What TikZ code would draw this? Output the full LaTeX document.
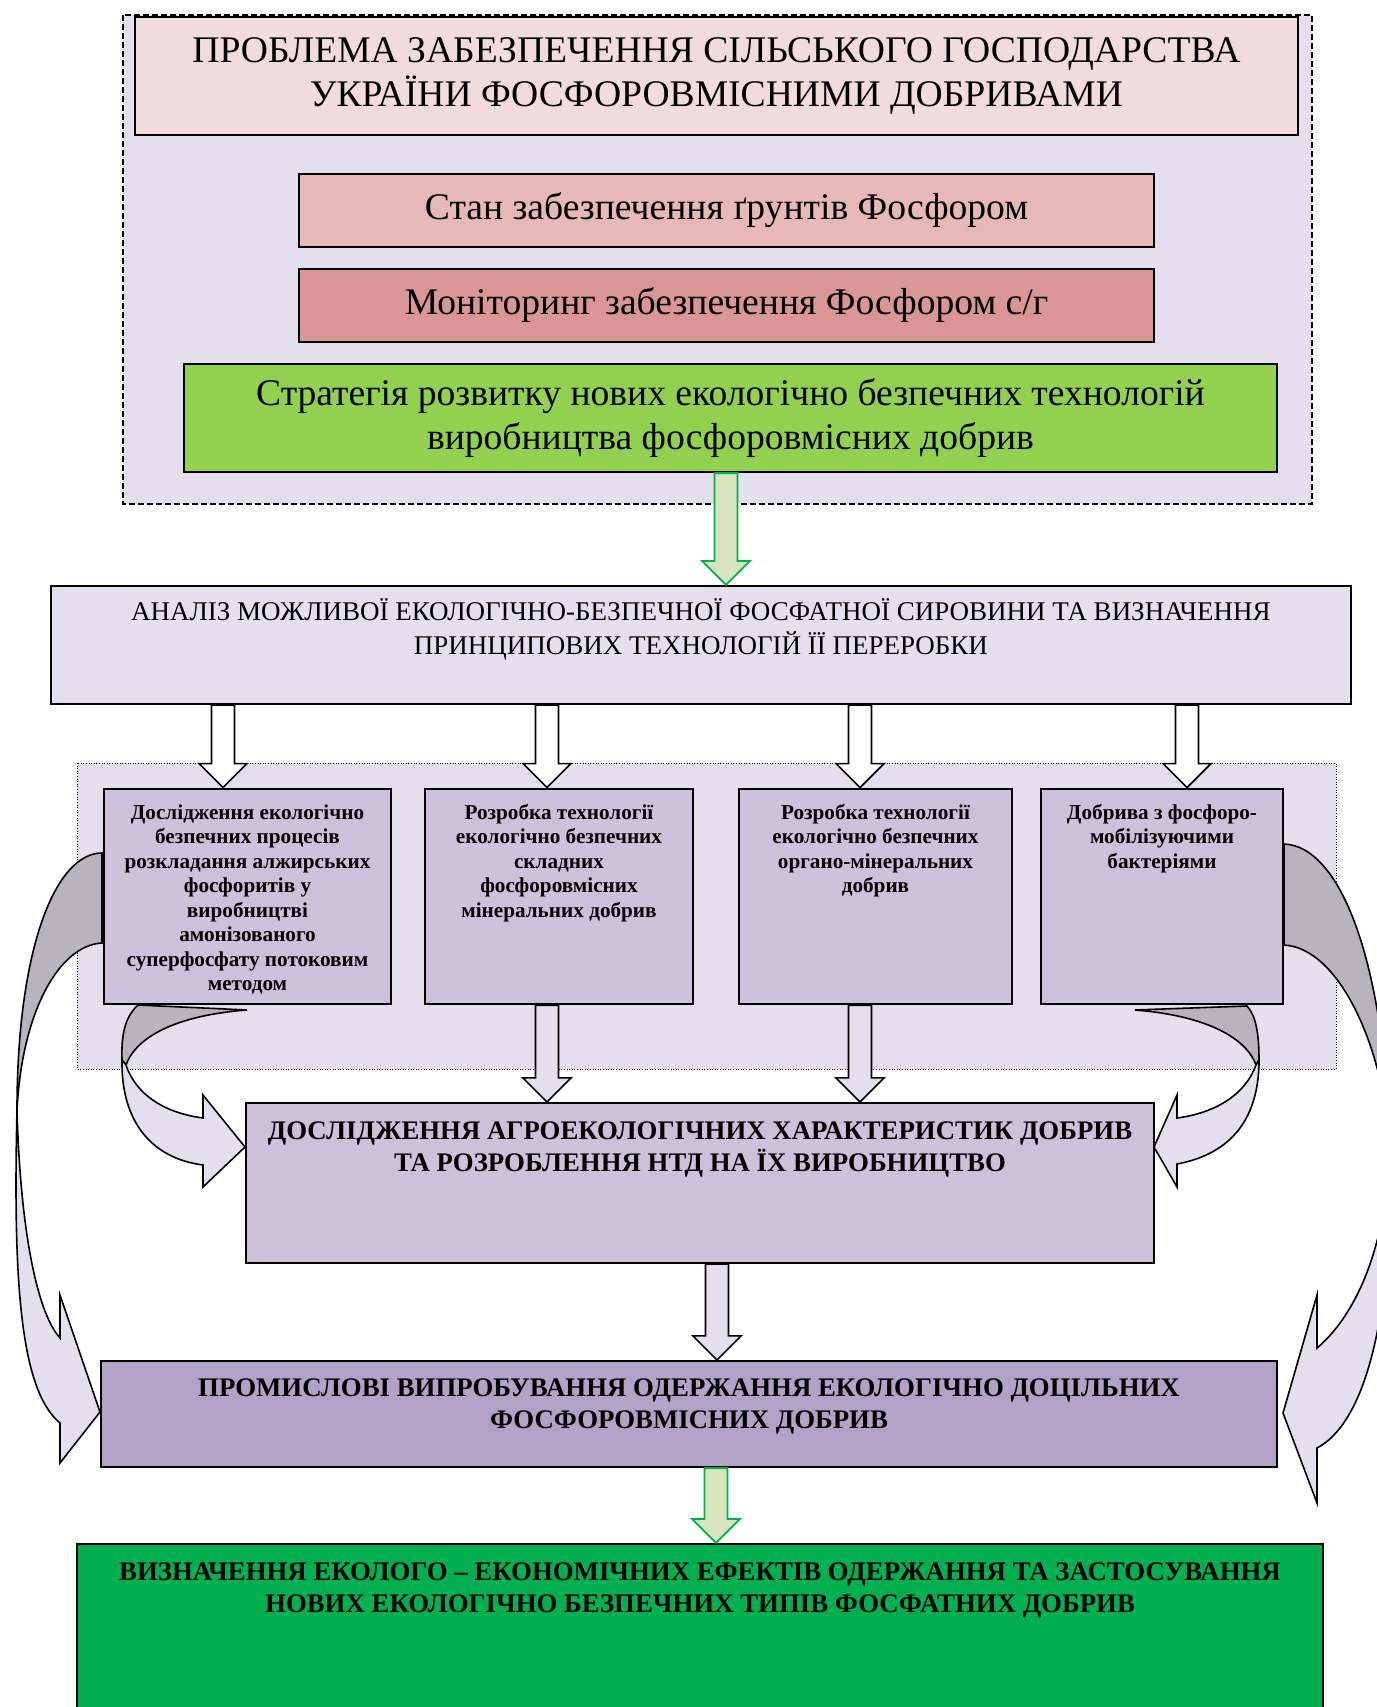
\documentclass[tikz,border=0pt]{standalone}
\usepackage{fontspec}
\setmainfont{Liberation Serif}
\usetikzlibrary{calc}
\definecolor[named]{PanelLilac}{HTML}{E4DFEC}
\definecolor[named]{BoxLilac}{HTML}{CCC1DA}
\definecolor[named]{TrialLilac}{HTML}{B3A2C7}
\definecolor[named]{BackShade}{HTML}{B8B4BD}
\definecolor[named]{TitlePink}{HTML}{F2DCDB}
\definecolor[named]{SoilPink}{HTML}{E6B9B8}
\definecolor[named]{MonPink}{HTML}{D99694}
\definecolor[named]{StratGreen}{HTML}{92D050}
\definecolor[named]{ArrowGreen}{HTML}{D7E4BD}
\definecolor[named]{EdgeGreen}{HTML}{00B050}
\definecolor[named]{EffectGreen}{HTML}{00B050}
% text hung from the top of a box: width, height, top gap, text
\newcommand{\toptext}[4]{%
  \parbox[c][#2][t]{#1}{\centering\vspace*{#3}\strut#4\par}%
}
% straight block arrow pointing down, from #2 to its tip #3
\newcommand{\fatarrow}[3][]{%
  \draw[fatarrow,#1] let \p1=#2, \p2=#3 in
    ({\x1-5.75pt},\y1) -- ({\x1+5.75pt},\y1) -- ({\x1+5.75pt},{\y2+12pt})
    -- ({\x1+12pt},{\y2+12pt}) -- (\x1,\y2) -- ({\x1-12pt},{\y2+12pt})
    -- ({\x1-5.75pt},{\y2+12pt}) -- cycle;
}
\tikzset{
  box/.style={draw,line width=1.1pt,inner sep=0pt,align=center},
  headbox/.style={box,font=\fontsize{18.8}{22}\selectfont},
  stepbox/.style={box,fill=BoxLilac,line width=1.4pt,
    font=\bfseries\fontsize{10.6}{12.25}\selectfont},
  capsbox/.style={box,font=\bfseries\fontsize{13.4}{16}\selectfont},
  fatarrow/.style={draw=black,line width=0.8pt,fill=white,line join=miter},
  greenarrow/.style={draw=EdgeGreen,fill=ArrowGreen,line width=0.9pt},
  lilacarrow/.style={fill=PanelLilac},
  backface/.style={draw=black,line width=0.8pt,fill=BackShade},
  frontface/.style={draw=black,line width=0.8pt,fill=PanelLilac,line join=miter},
}

\begin{document}
\begin{tikzpicture}[x=0.5pt,y=-0.5pt]
  \useasboundingbox (0,0) rectangle (1376,1707);

  % Problem {{{
  \draw[fill=PanelLilac,line width=0.6pt,dash pattern=on 3pt off 1.5pt]
    (123,15) rectangle (1312,504);
  \node[headbox,fill=TitlePink,minimum width=581.5pt,minimum height=59pt]
    (prob) at (716.5,76)
    {ПРОБЛЕМА ЗАБЕЗПЕЧЕННЯ СІЛЬСЬКОГО ГОСПОДАРСТВА\\УКРАЇНИ ФОСФОРОВМІСНИМИ ДОБРИВАМИ};
  \node[headbox,fill=SoilPink,minimum width=427.5pt,minimum height=36.5pt]
    (soil) at (726.5,210.5) {Стан забезпечення ґрунтів Фосфором};
  \node[headbox,fill=MonPink,minimum width=427.5pt,minimum height=36.5pt]
    (mon) at (726.5,305.5) {Моніторинг забезпечення Фосфором с/г};
  \node[headbox,fill=StratGreen,minimum width=546.5pt,minimum height=54pt]
    (strat) at (730.5,418)
    {Стратегія розвитку нових екологічно безпечних технологій\\виробництва фосфоровмісних добрив};
  % }}}

  % Analysis {{{
  \node[box,fill=PanelLilac,font=\fontsize{13.5}{15.8}\selectfont] (an) at (701,645)
    {\toptext{650pt}{59pt}{6.2pt}{АНАЛІЗ МОЖЛИВОЇ ЕКОЛОГІЧНО-БЕЗПЕЧНОЇ ФОСФАТНОЇ СИРОВИНИ ТА ВИЗНАЧЕННЯ\\ПРИНЦИПОВИХ ТЕХНОЛОГІЙ ЇЇ ПЕРЕРОБКИ}};
  \coordinate (xg) at (726,0);
  \fatarrow[greenarrow]{(strat.south -| xg)}{(an.north -| xg)}
  % }}}

  % Technologies {{{
  \draw[fill=PanelLilac,line width=0.5pt,dash pattern=on 0.5pt off 0.8pt]
    (77,763) rectangle (1336,1069);
  \node[stepbox] (d1) at (247.5,896.5)
    {\toptext{143.5pt}{107.5pt}{6.6pt}{Дослідження екологічно\\безпечних процесів\\розкладання алжирських\\фосфоритів у\\виробництві\\амонізованого\\суперфосфату потоковим\\методом}};
  \node[stepbox] (d2) at (559,896.5)
    {\toptext{134pt}{107.5pt}{6.6pt}{Розробка технології\\екологічно безпечних\\складних\\фосфоровмісних\\мінеральних добрив}};
  \node[stepbox] (d3) at (875.5,896.5)
    {\toptext{136.5pt}{107.5pt}{6.6pt}{Розробка технології\\екологічно безпечних\\органо-мінеральних\\добрив}};
  \node[stepbox] (d4) at (1162,896.5)
    {\toptext{121pt}{107.5pt}{6.6pt}{Добрива з фосфоро-\\мобілізуючими\\бактеріями}};
  \coordinate (xd1) at (223,0);
  \coordinate (xd2) at (547,0);
  \coordinate (xd3) at (860,0);
  \coordinate (xd4) at (1187,0);
  \foreach \dn in {d1,d2,d3,d4} {
    \fatarrow{(an.south -| x\dn)}{(\dn.north -| x\dn)}
  }
  % }}}

  % Research and trials {{{
  \node[capsbox,fill=BoxLilac] (res) at (700,1183)
    {\toptext{454pt}{80pt}{7.2pt}{ДОСЛІДЖЕННЯ АГРОЕКОЛОГІЧНИХ ХАРАКТЕРИСТИК ДОБРИВ\\ТА РОЗРОБЛЕННЯ НТД НА ЇХ ВИРОБНИЦТВО}};
  \foreach \dn in {d2,d3} {
    \fatarrow[lilacarrow]{(\dn.south -| x\dn)}{(res.north -| x\dn)}
  }
  \node[capsbox,fill=TrialLilac] (trial) at (689,1414)
    {\toptext{588pt}{53pt}{6.7pt}{ПРОМИСЛОВІ ВИПРОБУВАННЯ ОДЕРЖАННЯ ЕКОЛОГІЧНО ДОЦІЛЬНИХ\\ФОСФОРОВМІСНИХ ДОБРИВ}};
  \coordinate (xr) at (717,0);
  \fatarrow[lilacarrow]{(res.south -| xr)}{(trial.north -| xr)}
  \node[capsbox,fill=EffectGreen] (eff) at (700,1642)
    {\toptext{623pt}{98pt}{7.2pt}{ВИЗНАЧЕННЯ ЕКОЛОГО – ЕКОНОМІЧНИХ ЕФЕКТІВ ОДЕРЖАННЯ ТА ЗАСТОСУВАННЯ\\НОВИХ ЕКОЛОГІЧНО БЕЗПЕЧНИХ ТИПІВ ФОСФАТНИХ ДОБРИВ}};
  \coordinate (xe) at (716,0);
  \fatarrow[greenarrow]{(trial.south -| xe)}{(eff.north -| xe)}
  % }}}

  % Curved arrows {{{
  % small left: d1 -> res
  \draw[backface] (138,1005) -- (247,1010)
    .. controls (180,1015) and (137,1035) .. (126,1065) -- (122,1060)
    .. controls (121,1030) and (127,1015) .. (138,1005) -- cycle;
  \draw[frontface] (126,1065) .. controls (136,1095) and (165,1113) .. (203,1118)
    -- (203,1095) -- (245,1147) -- (203,1187) -- (203,1165)
    .. controls (150,1158) and (121,1120) .. (122,1060) -- cycle;
  % small right: d4 -> res
  \draw[backface] (1135,1010) -- (1247,1006)
    .. controls (1255,1015) and (1259,1030) .. (1259,1060) -- (1256,1065)
    .. controls (1245,1035) and (1200,1015) .. (1135,1010) -- cycle;
  \draw[frontface] (1256,1065) .. controls (1245,1095) and (1215,1113) .. (1177,1118)
    -- (1177,1095) -- (1154,1147) -- (1177,1187) -- (1177,1164)
    .. controls (1225,1155) and (1259,1125) .. (1259,1060) -- cycle;
  % big left: d1 -> trial
  \draw[backface] (102,853) -- (102,943)
    .. controls (60,945) and (22,1010) .. (17,1110)
    .. controls (17,950) and (55,853) .. (102,853) -- cycle;
  \draw[frontface] (17,1110) .. controls (13,1280) and (20,1390) .. (60,1423)
    -- (60,1463) -- (100,1412) -- (60,1295) -- (60,1338)
    .. controls (35,1310) and (20,1220) .. (17,1110) -- cycle;
  % big right: d4 -> trial
  \draw[backface] (1284,844) -- (1284,945)
    .. controls (1340,948) and (1385,1050) .. (1390,1150)
    .. controls (1385,960) and (1340,846) .. (1284,844) -- cycle;
  \draw[frontface] (1390,1150) .. controls (1393,1300) and (1370,1420) .. (1317,1448)
    -- (1317,1503) -- (1283,1413) -- (1317,1295) -- (1317,1348)
    .. controls (1350,1320) and (1385,1260) .. (1390,1150) -- cycle;
  % }}}
\end{tikzpicture}
\end{document}
